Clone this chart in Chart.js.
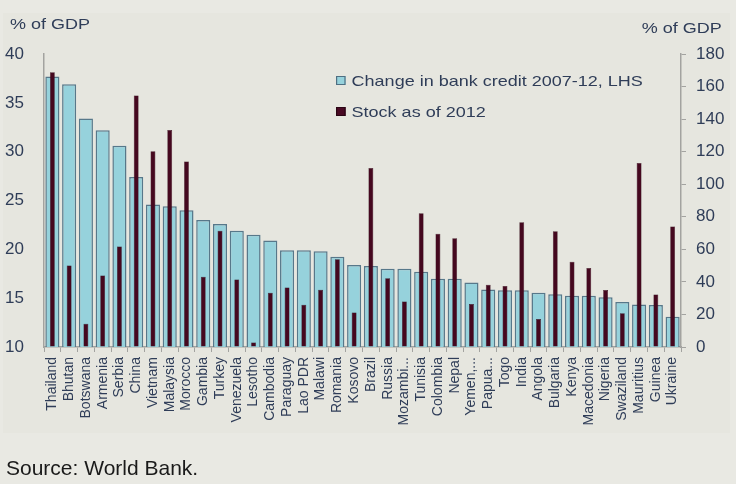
<!DOCTYPE html>
<html>
<head>
<meta charset="utf-8">
<script src="https://cdn.jsdelivr.net/npm/chart.js@4"></script>
<style>
  body { margin: 0; background: #e9e9e3; font-family: "Liberation Sans", Arial, sans-serif; }
  #wrap { position: relative; width: 736px; height: 484px; }
  #chart { position: absolute; left: 0; top: 0; }
  .lbl { position: absolute; color: #2f3d58; font-size: 15px; white-space: nowrap; transform: scaleX(1.2); }
  .legend { position: absolute; left: 336px; font-size: 15px; color: #2f3d58; white-space: nowrap; transform: scaleX(1.2); transform-origin: left center; }
  .legend span { display: inline-block; width: 6px; height: 7px; margin-right: 5px; vertical-align: 1px; }
  #source { position: absolute; left: 6px; top: 456px; font-size: 21px; color: #1a1a1a; }
</style>
</head>
<body>
<div id="wrap">
  <canvas id="chart" width="736" height="484"></canvas>
  <div class="lbl" style="left:10px; top:15px; transform-origin:left center;">% of GDP</div>
  <div class="lbl" style="right:14px; top:19px; transform-origin:right center;">% of GDP</div>
  <div class="legend" style="top:72px;"><span style="background:#96d2dc;border:1px solid #4f6f82;"></span>Change in bank credit 2007-12, LHS</div>
  <div class="legend" style="top:103px;"><span style="background:#4a0a24;border:1px solid #2a0514;"></span>Stock as of 2012</div>
  <div id="source">Source: World Bank.</div>
</div>
<script>
var countries = ['Thailand', 'Bhutan', 'Botswana', 'Armenia', 'Serbia', 'China', 'Vietnam', 'Malaysia', 'Morocco', 'Gambia',
    'Turkey', 'Venezuela', 'Lesotho', 'Cambodia', 'Paraguay', 'Lao PDR', 'Malawi', 'Romania', 'Kosovo', 'Brazil',
    'Russia', 'Mozambi...', 'Tunisia', 'Colombia', 'Nepal', 'Yemen,...', 'Papua...', 'Togo', 'India', 'Angola',
    'Bulgaria', 'Kenya', 'Macedonia', 'Nigeria', 'Swaziland', 'Mauritius', 'Guinea', 'Ukraine'];

// change in bank credit 2007-12, % of GDP (left axis)
var creditChange = [37.7, 36.9, 33.4, 32.2, 30.6, 27.4, 24.6, 24.4, 24.0, 23.0,
    22.6, 21.9, 21.5, 20.9, 19.9, 19.9, 19.8, 19.25, 18.4, 18.3,
    18.0, 18.0, 17.7, 17.0, 17.0, 16.6, 15.9, 15.8, 15.8, 15.55,
    15.4, 15.25, 15.25, 15.1, 14.6, 14.35, 14.3, 13.1];

// stock as of 2012, % of GDP (right axis)
var creditStock = [168.8, 50.0, 14.3, 43.9, 61.8, 154.5, 120.2, 133.3, 113.9, 43.1,
    71.4, 41.4, 2.7, 33.3, 36.5, 25.9, 35.1, 53.9, 21.2, 110.0,
    42.2, 27.9, 82.2, 69.5, 66.8, 26.4, 38.3, 37.5, 76.6, 17.2,
    71.1, 52.3, 48.6, 35.0, 20.7, 113.1, 32.2, 74.0];

var leftTicks = [10, 15, 20, 25, 30, 35, 40];
var rightTicks = [0, 20, 40, 60, 80, 100, 120, 140, 160, 180];

var textColor = '#2f3d58';
var axisColor = '#a3a3a0';

// slightly lighter panel behind the plot
var panelPlugin = {
    id: 'panel',
    beforeDraw: function(chart) {
        var c = chart.ctx;
        c.save();
        c.fillStyle = '#e6e6df';
        c.fillRect(3, 13, 727, 420);
        c.restore();
    }
};

var ctx = document.getElementById('chart').getContext('2d');
var chart = new Chart(ctx, {
    type: 'bar',
    data: {
        labels: countries,
        datasets: [{
            label: 'Stock as of 2012',
            data: creditStock,
            yAxisID: 'y1',
            backgroundColor: '#45081f',
            borderColor: '#2a0413',
            borderWidth: 0.5,
            barPercentage: 0.29,
            categoryPercentage: 1,
            grouped: false,
            order: 0
        }, {
            label: 'Change in bank credit 2007-12, LHS',
            data: creditChange,
            yAxisID: 'y',
            backgroundColor: '#96d2dc',
            borderColor: '#57788a',
            borderWidth: 1.5,
            barPercentage: 0.84,
            categoryPercentage: 1,
            grouped: false,
            base: 10,
            order: 1
        }]
    },
    options: {
        responsive: false,
        animation: false,
        layout: { padding: { top: 54, left: 0, right: 0, bottom: 0 } },
        plugins: {
            legend: { display: false },
            tooltip: { enabled: false }
        },
        scales: {
            x: {
                offset: true,
                grid: { display: true, drawOnChartArea: false, offset: true, tickLength: 5, color: axisColor },
                border: { color: axisColor, width: 1.5 },
                ticks: {
                    color: textColor,
                    font: { family: 'Liberation Sans', size: 14 },
                    minRotation: 90,
                    maxRotation: 90,
                    autoSkip: false,
                    padding: 5
                },
                afterFit: function(scale) { scale.height = 137; }
            },
            y: {
                position: 'left',
                min: 10,
                max: 40,
                afterBuildTicks: function(scale) { scale.ticks = leftTicks.map(function(v) { return { value: v }; }); },
                grid: { display: false },
                border: { color: axisColor, width: 1.5 },
                ticks: {
                    color: textColor,
                    font: { family: 'Liberation Sans', size: 17 },
                    padding: 12
                },
                afterFit: function(scale) { scale.width = 44; }
            },
            y1: {
                position: 'right',
                min: 0,
                max: 180,
                afterBuildTicks: function(scale) { scale.ticks = rightTicks.map(function(v) { return { value: v }; }); },
                grid: { display: true, drawOnChartArea: false, tickLength: 5, color: axisColor },
                border: { color: axisColor, width: 1.5 },
                ticks: {
                    color: textColor,
                    font: { family: 'Liberation Sans', size: 17 },
                    padding: 10
                },
                afterFit: function(scale) { scale.width = 55; }
            }
        }
    },
    plugins: [panelPlugin]
});
</script>
</body>
</html>
